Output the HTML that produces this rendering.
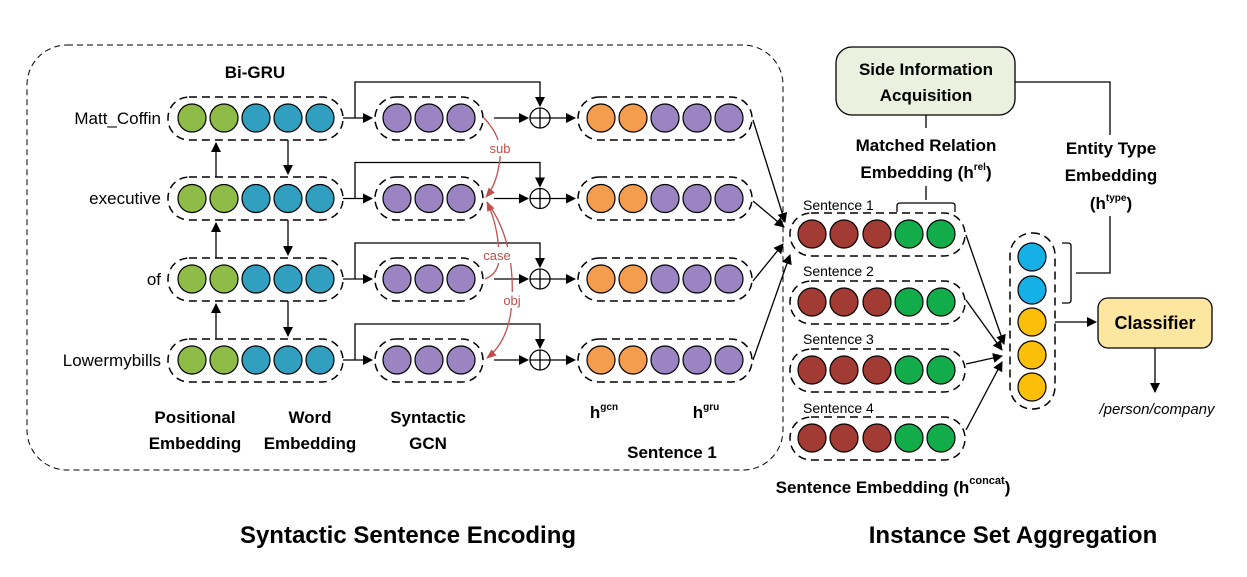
<!DOCTYPE html>
<html><head><meta charset="utf-8"><style>
html,body{margin:0;padding:0;background:#fff}
svg{display:block;font-family:"Liberation Sans",sans-serif}
.b{font-weight:bold}
</style></head><body>
<svg width="1247" height="577" viewBox="0 0 1247 577" xmlns="http://www.w3.org/2000/svg">
<defs>
<marker id="ar" markerWidth="10" markerHeight="10" refX="9" refY="5" orient="auto" markerUnits="userSpaceOnUse"><path d="M0,0 L10,5 L0,10 z" fill="#000"/></marker>
<marker id="rr" markerWidth="10" markerHeight="10" refX="9" refY="5" orient="auto" markerUnits="userSpaceOnUse"><path d="M0,1 L10,5 L0,9 z" fill="#c0504d"/></marker>
</defs>
<rect x="27" y="45" width="756" height="425" rx="40" fill="none" stroke="#000" stroke-width="1" stroke-dasharray="6,4"/>

<g stroke="#000" stroke-width="1.3" fill="none">
<g stroke-dasharray="8,5" stroke-width="1.5">
<rect x="168" y="97" width="175" height="43" rx="21"/>
<rect x="168" y="177" width="175" height="43" rx="21"/>
<rect x="168" y="258" width="175" height="43" rx="21"/>
<rect x="168" y="339" width="175" height="43" rx="21"/>
<rect x="375" y="97" width="108" height="43" rx="21"/>
<rect x="375" y="177" width="108" height="43" rx="21"/>
<rect x="375" y="258" width="108" height="43" rx="21"/>
<rect x="375" y="339" width="108" height="43" rx="21"/>
<rect x="578" y="97" width="174" height="43" rx="21"/>
<rect x="578" y="177" width="174" height="43" rx="21"/>
<rect x="578" y="258" width="174" height="43" rx="21"/>
<rect x="578" y="339" width="174" height="43" rx="21"/>
<rect x="790" y="213" width="175" height="43" rx="21"/>
<rect x="790" y="281" width="175" height="43" rx="21"/>
<rect x="790" y="349" width="175" height="43" rx="21"/>
<rect x="790" y="417" width="175" height="43" rx="21"/>
<rect x="1010" y="233" width="45" height="176" rx="22"/>
</g>
</g>

<g stroke="#000" stroke-width="1.2">
<g id="bg">
<circle cx="192" cy="118" r="14" fill="#8fbc47"/><circle cx="224" cy="118" r="14" fill="#8fbc47"/>
<circle cx="256" cy="118" r="14" fill="#31a0c0"/><circle cx="288" cy="118" r="14" fill="#31a0c0"/><circle cx="320" cy="118" r="14" fill="#31a0c0"/>
<circle cx="397" cy="118" r="14" fill="#9a84c2"/><circle cx="429" cy="118" r="14" fill="#9a84c2"/><circle cx="461" cy="118" r="14" fill="#9a84c2"/>
<circle cx="601" cy="118" r="14" fill="#f59d4f"/><circle cx="633" cy="118" r="14" fill="#f59d4f"/>
<circle cx="665" cy="118" r="14" fill="#9a84c2"/><circle cx="697" cy="118" r="14" fill="#9a84c2"/><circle cx="729" cy="118" r="14" fill="#9a84c2"/>
</g>
<use href="#bg" y="80.5"/><use href="#bg" y="161"/><use href="#bg" y="242"/>
<g id="sg">
<circle cx="812" cy="234" r="14" fill="#a23b33"/><circle cx="844" cy="234" r="14" fill="#a23b33"/><circle cx="877" cy="234" r="14" fill="#a23b33"/>
<circle cx="909" cy="234" r="14" fill="#12ad4a"/><circle cx="941" cy="234" r="14" fill="#12ad4a"/>
</g>
<use href="#sg" y="68"/><use href="#sg" y="136"/><use href="#sg" y="204"/>
<circle cx="1032" cy="257" r="14" fill="#14b0e6"/><circle cx="1032" cy="290" r="14" fill="#14b0e6"/>
<circle cx="1032" cy="322" r="14" fill="#fbbf0a"/><circle cx="1032" cy="355" r="14" fill="#fbbf0a"/><circle cx="1032" cy="387" r="14" fill="#fbbf0a"/>
</g>

<g stroke="#000" stroke-width="1.3" fill="none">
<g id="rowc">
<circle cx="540" cy="118" r="10" fill="#fff"/>
<path d="M530,118 H550 M540,108 V128"/>
<path d="M343,118 H372" marker-end="url(#ar)"/>
<path d="M355,118 V82 H540 V106" marker-end="url(#ar)"/>
<path d="M494,118 H528" marker-end="url(#ar)"/>
<path d="M550,118 H575" marker-end="url(#ar)"/>
</g>
<use href="#rowc" y="80.5"/><use href="#rowc" y="161"/><use href="#rowc" y="242"/>
<path d="M216,177 V143" marker-end="url(#ar)"/>
<path d="M216,258 V223" marker-end="url(#ar)"/>
<path d="M216,339 V304" marker-end="url(#ar)"/>
<path d="M288,140 V174" marker-end="url(#ar)"/>
<path d="M288,220 V255" marker-end="url(#ar)"/>
<path d="M288,301 V336" marker-end="url(#ar)"/>
<path d="M753,120 L785,222" marker-end="url(#ar)"/>
<path d="M753,201 L784,227" marker-end="url(#ar)"/>
<path d="M753,281 L783,244" marker-end="url(#ar)"/>
<path d="M753,360 L790,255" marker-end="url(#ar)"/>
<path d="M966,235 L1004,344" marker-end="url(#ar)"/>
<path d="M966,300 L1002,350" marker-end="url(#ar)"/>
<path d="M966,364 L1002,356" marker-end="url(#ar)"/>
<path d="M966,430 L1002,362" marker-end="url(#ar)"/>
<path d="M1055,322 H1096" marker-end="url(#ar)"/>
<path d="M1155,348 V392" marker-end="url(#ar)"/>
<path d="M926,115 V128 M926,186 V200"/>
<path d="M897,212 V206 Q897,203 900,203 H952 Q955,203 955,206 V212"/>
<path d="M1015,82 H1110 V135 M1110,216 V273 H1076"/>
<path d="M1062,243 H1068 Q1071,243 1071,246 V300 Q1071,303 1068,303 H1062"/>
</g>

<g stroke="#c0504d" stroke-width="1.3" fill="none">
<path d="M484,118 Q505,140 499,165 Q496,185 486,197" marker-end="url(#rr)"/>
<path d="M485,279 Q500,273 499,255 Q498,225 487,202" marker-end="url(#rr)"/>
<path d="M487,202 Q515,240 512,300 Q510,340 487,358" marker-end="url(#rr)"/>
</g>
<g fill="#c0504d" font-size="13" text-anchor="middle">
<rect x="486" y="140" width="28" height="16" fill="#fff"/><text x="500" y="153">sub</text>
<rect x="481" y="247" width="32" height="16" fill="#fff"/><text x="497" y="260">case</text>
<rect x="500" y="292" width="24" height="16" fill="#fff"/><text x="512" y="305">obj</text>
</g>

<rect x="836" y="47" width="179" height="68" rx="16" fill="#ebf1de" stroke="#000" stroke-width="1.3"/>
<rect x="1098" y="298" width="114" height="50" rx="10" fill="#fde7a0" stroke="#000" stroke-width="1.3"/>

<g font-size="17" text-anchor="end">
<text x="161" y="124">Matt_Coffin</text>
<text x="161" y="204">executive</text>
<text x="161" y="285">of</text>
<text x="161" y="366">Lowermybills</text>
</g>
<g class="b" font-size="17" text-anchor="middle">
<text x="255" y="78">Bi-GRU</text>
<text x="195" y="423">Positional</text><text x="195" y="449">Embedding</text>
<text x="310" y="423">Word</text><text x="310" y="449">Embedding</text>
<text x="428" y="423">Syntactic</text><text x="428" y="449">GCN</text>
<text x="672" y="458">Sentence 1</text>
<text x="604" y="418">h<tspan font-size="10" dy="-8">gcn</tspan></text>
<text x="706" y="418">h<tspan font-size="10" dy="-8">gru</tspan></text>
<text x="926" y="75">Side Information</text>
<text x="926" y="101">Acquisition</text>
<text x="926" y="151">Matched Relation</text>
<text x="926" y="178">Embedding (h<tspan font-size="10" dy="-8">rel</tspan><tspan dy="8">)</tspan></text>
<text x="1111" y="154">Entity Type</text>
<text x="1111" y="181">Embedding</text>
<text x="1111" y="209">(h<tspan font-size="10" dy="-8">type</tspan><tspan dy="8">)</tspan></text>
<text x="1155" y="329" font-size="18">Classifier</text>
<text x="893" y="493">Sentence Embedding (h<tspan font-size="11" dy="-9">concat</tspan><tspan dy="9">)</tspan></text>
</g>
<g font-size="14">
<text x="803" y="210">Sentence 1</text>
<text x="803" y="276">Sentence 2</text>
<text x="803" y="344">Sentence 3</text>
<text x="803" y="413">Sentence 4</text>
</g>
<text x="1157" y="414" font-size="15" font-style="italic" text-anchor="middle">/person/company</text>
<g class="b" font-size="24" text-anchor="middle">
<text x="408" y="543">Syntactic Sentence Encoding</text>
<text x="1013" y="543">Instance Set Aggregation</text>
</g>
</svg>
</body></html>
